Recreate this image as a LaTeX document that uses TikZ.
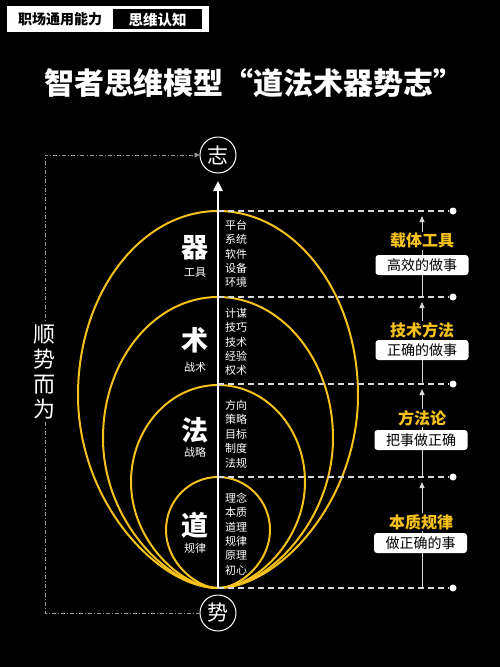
\documentclass[tikz,border=0pt]{standalone}
\usepackage{fontspec}
\newfontfamily\cjk{Noto Sans CJK SC}
\usetikzlibrary{arrows.meta}
\definecolor{gold}{RGB}{245,193,28}
\definecolor{lgray}{RGB}{215,215,215}
\definecolor{mgray}{RGB}{150,150,150}
% #1 rx, #2 top y, #3 widest y
\newcommand\eggshape[3]{%
  \draw[ring] (218,588)
    .. controls ({218-0.42*#1},588) and ({218-#1},{#3+0.56*(588-#3)}) .. ({218-#1},#3)
    .. controls ({218-#1},{#3-0.5523*(#3-#2)}) and ({218-0.5523*#1},#2) .. (218,#2)
    .. controls ({218+0.5523*#1},#2) and ({218+#1},{#3-0.5523*(#3-#2)}) .. ({218+#1},#3)
    .. controls ({218+#1},{#3+0.56*(588-#3)}) and ({218+0.42*#1},588) .. (218,588) -- cycle;}
\begin{document}
\begin{tikzpicture}[x=1pt,y=-1pt,
  circ/.style={draw=white,line width=1pt,circle,minimum size=36pt,inner sep=0pt,text=white,font=\cjk\fontsize{21}{21}\selectfont},
  ring/.style={draw=gold,line width=2pt},
  dashline/.style={draw=lgray,line width=1.4pt,dash pattern=on 6pt off 4pt},
  dotnode/.style={circle,fill=white,minimum size=7pt,inner sep=0pt},
  uparrow/.style={draw=lgray,line width=0.8pt,-{Triangle[width=5pt,length=6pt]}},
  bigchar/.style={text=white,font=\cjk\bfseries\fontsize{27}{27}\selectfont,inner sep=0pt},
  smallchar/.style={text=white,font=\cjk\fontsize{11}{11}\selectfont,inner sep=0pt},
  listnode/.style={text=white,anchor=west,align=left,inner sep=0pt,font=\cjk\fontsize{11}{14.4}\selectfont},
  goldlabel/.style={text=gold,fill=black,inner sep=1pt,font=\cjk\bfseries\fontsize{16}{16}\selectfont},
  whitebox/.style={fill=white,rounded corners=3pt,minimum width=93pt,minimum height=20pt,inner sep=0pt,text=black,font=\cjk\fontsize{14}{14}\selectfont},
  bracketline/.style={draw=mgray,line width=0.8pt,dash pattern=on 4pt off 2pt on 1pt off 2pt}
]
% background
\fill[black] (0,0) rectangle (500,667);
\useasboundingbox (0,0) rectangle (500,667);

% header
\fill[white] (7,6) rectangle (209,32);
\fill[black] (113,9) rectangle (202,29);
\node[text=black,font=\cjk\bfseries\fontsize{14}{14}\selectfont,inner sep=0pt] (h1) at (60,19.5) {职场通用能力};
\node[text=white,font=\cjk\bfseries\fontsize{14.5}{14.5}\selectfont,inner sep=0pt] (h2) at (157.5,19.5) {思维认知};

% title
\node[text=white,font=\cjk\bfseries\fontsize{30}{30}\selectfont,inner sep=0pt] (title) at (254,83) {智者思维模型“道法术器势志”};

% egg-shaped rings
\eggshape{140}{211}{395}
\eggshape{115}{297}{438}
\eggshape{87}{385}{482}
\eggshape{52}{477}{530}

% circles
\node[circ] (zhi) at (218,155) {志};
\node[circ] (shi) at (218,613) {势};

% coordinates
\coordinate (bot) at (218,588);
\coordinate (tip) at (218,181);
\coordinate (t1) at (218,211);
\coordinate (t2) at (218,297);
\coordinate (t3) at (218,384);
\coordinate (t4) at (218,477);
\node[dotnode] (d1) at (453,211) {};
\node[dotnode] (d2) at (453,297) {};
\node[dotnode] (d3) at (453,384) {};
\node[dotnode] (d4) at (453,477) {};
\node[dotnode] (d5) at (453,588) {};

% dashed levels
\draw[dashline] (t1) -- (d1);
\draw[dashline] (t2) -- (d2);
\draw[dashline] (t3) -- (d3);
\draw[dashline] (t4) -- (d4);
\draw[dashline] (bot) -- (d5);

% main arrow
\draw[white,line width=2.4pt,-{Triangle[width=9pt,length=10pt]}] (bot) -- (tip);

% right vertical arrows
\coordinate (r0) at (422,588);
\coordinate (r1a) at (422,216);
\coordinate (r1b) at (422,297);
\coordinate (r2a) at (422,302);
\coordinate (r2b) at (422,384);
\coordinate (r3a) at (422,389);
\coordinate (r3b) at (422,477);
\coordinate (r4a) at (422,482);
\draw[uparrow] (r1b) -- (r1a);
\draw[uparrow] (r2b) -- (r2a);
\draw[uparrow] (r3b) -- (r3a);
\draw[uparrow] (r0) -- (r4a);

% right labels
\node[goldlabel] (g1) at (422,241) {载体工具};
\node[whitebox] (b1) at (422,265) {高效的做事};
\node[goldlabel] (g2) at (422,330) {技术方法};
\node[whitebox] (b2) at (422,350) {正确的做事};
\node[goldlabel] (g3) at (422,418) {方法论};
\node[whitebox] (b3) at (421,440) {把事做正确};
\node[goldlabel] (g4) at (421,522) {本质规律};
\node[whitebox] (b4) at (420.5,543) {做正确的事};

% left labels inside rings
\node[bigchar] (qi) at (195,248) {器};
\node[smallchar] (qis) at (195,273) {工具};
\node[bigchar] (shu) at (195,340) {术};
\node[smallchar] (shus) at (195,367) {战术};
\node[bigchar] (fa) at (195,430) {法};
\node[smallchar] (fas) at (195,452) {战略};
\node[bigchar] (dao) at (195,525) {道};
\node[smallchar] (daos) at (195,548) {规律};

% lists
\node[listnode] (l1) at (225,254) {平台\\系统\\软件\\设备\\环境};
\node[listnode] (l2) at (225,342) {计谋\\技巧\\技术\\经验\\权术};
\node[listnode] (l3) at (225,434) {方向\\策略\\目标\\制度\\法规};
\node[listnode] (l4) at (225,534) {理念\\本质\\道理\\规律\\原理\\初心};

% left bracket
\coordinate (bl) at (45,613);
\coordinate (tl) at (45,155);
\draw[bracketline,-{Triangle[width=5pt,length=5pt]}] (shi.west) -- (bl) -- (tl) -- (zhi.west);
\node[fill=black,text=white,align=center,inner sep=2pt,font=\cjk\fontsize{22}{25}\selectfont] (side) at (45,372) {顺\\势\\而\\为};
\end{tikzpicture}
\end{document}
